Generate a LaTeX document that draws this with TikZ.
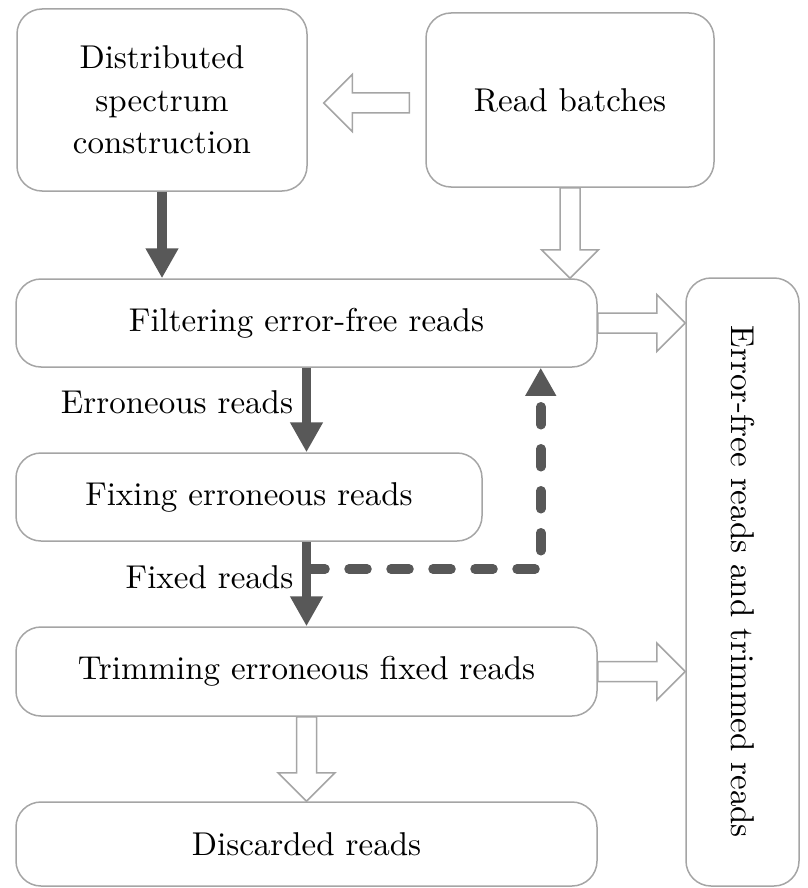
\documentclass[tikz,border=0pt]{standalone}
\usepackage{fontspec}
\setmainfont{lmroman10-regular}[Extension=.otf]
\usetikzlibrary{calc,arrows.meta}

\definecolor{edge}{RGB}{165,165,165}
\definecolor{dark}{RGB}{88,88,88}

% Outlined block arrow from #1 to #2 (shaft half-width 10pt, head 28.5pt)
\newcommand{\hollowarrow}[2]{%
  \coordinate (ha-s) at (#1);
  \coordinate (ha-e) at (#2);
  \coordinate (ha-h) at ($(ha-e)!28.5pt!(ha-s)$);
  \draw[hollow] ($(ha-s)!10pt!90:(ha-e)$) -- ($(ha-h)!10pt!90:(ha-e)$)
    -- ($(ha-h)!28.5pt!90:(ha-e)$) -- (ha-e)
    -- ($(ha-h)!28.5pt!-90:(ha-e)$) -- ($(ha-h)!10pt!-90:(ha-e)$)
    -- ($(ha-s)!10pt!-90:(ha-e)$) -- cycle;
}

\tikzset{
  txt/.style={font=\fontsize{33}{42.5}\selectfont},
  box/.style={txt, draw=edge, line width=1.5pt, rounded corners=25pt, align=center,
    inner sep=0pt},
  lbl/.style={txt, inner sep=0pt},
  hollow/.style={draw=edge, fill=white, line width=1.5pt, line join=miter},
  solidarrow/.style={draw=dark, line width=9.5pt, -{Triangle[length=30pt,width=31pt]}},
  dasharrow/.style={draw=dark, line width=9.5pt, dash pattern=on 18pt off 24pt,
    line cap=round, -{Triangle[length=28pt,width=29pt]}}
}

\begin{document}
\begin{tikzpicture}[x=1pt,y=-1pt]
  \useasboundingbox (0,0) rectangle (807,888);

  % process boxes
  \node[box, minimum width=290pt, minimum height=182pt] (dsc) at (162,100)
    {Distributed\\spectrum\\construction};
  \node[box, minimum width=288pt, minimum height=174pt] (rb) at (570,100)
    {Read batches};
  \node[box, minimum width=581pt, minimum height=88pt] (filt) at (306.5,323)
    {Filtering error-free reads};
  \node[box, minimum width=466pt, minimum height=88pt] (fix) at (249,497)
    {Fixing erroneous reads};
  \node[box, minimum width=581pt, minimum height=89pt] (trim) at (306.5,671.5)
    {Trimming erroneous fixed reads};
  \node[box, minimum width=581pt, minimum height=84pt] (disc) at (306.5,844)
    {Discarded reads};
  \node[box, minimum width=113pt, minimum height=608pt] (out) at (742.5,582)
    {\rotatebox{-90}{Error-free reads and trimmed reads}};

  % edge labels
  \node[lbl] (er) at (177,402) {Erroneous reads};
  \node[lbl] (fr) at (209.5,577) {Fixed reads};

  % outlined block arrows
  \hollowarrow{$(rb.west)+(-16,3)$}{$(dsc.east)+(16,3)$}
  \hollowarrow{rb.south}{rb.south |- filt.north}
  \hollowarrow{filt.east}{filt.east -| out.west}
  \hollowarrow{trim.east}{trim.east -| out.west}
  \hollowarrow{trim.south}{disc.north}

  % main data flow
  \draw[solidarrow] (dsc.south) -- (dsc.south |- filt.north);
  \draw[solidarrow] (filt.south) -- (filt.south |- fix.north);
  \draw[solidarrow] (fix.south -| filt.south) -- (trim.north);

  % feedback of fixed reads
  \coordinate (j) at (307,569);
  \coordinate (k) at ($(filt.south east)+(-57,0)$);
  \draw[dasharrow] (j) -| (k);
\end{tikzpicture}
\end{document}
